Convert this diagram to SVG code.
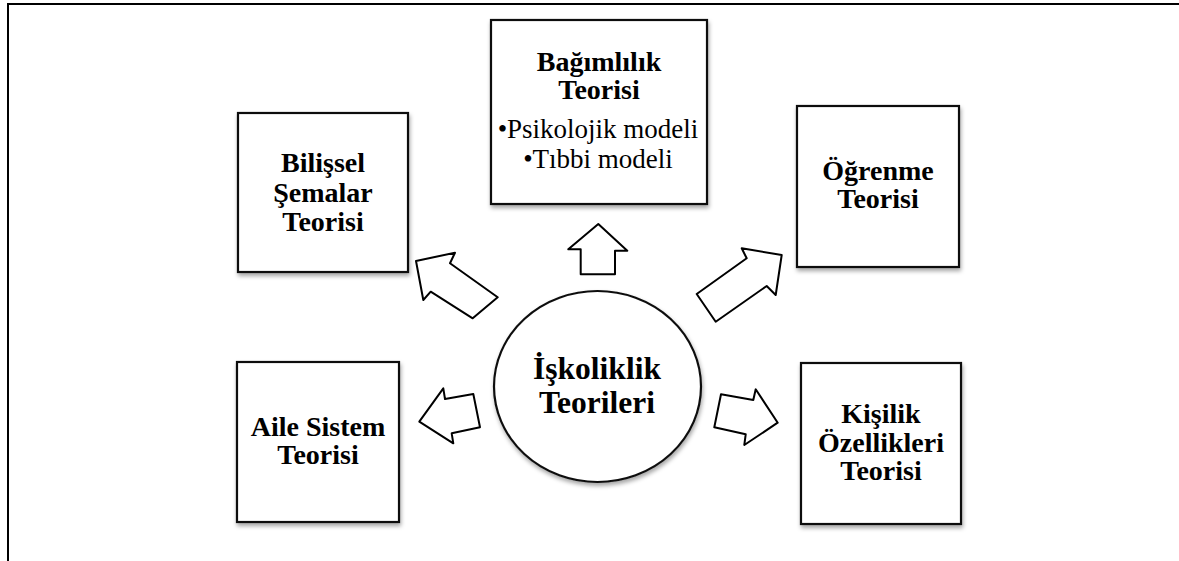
<svg xmlns="http://www.w3.org/2000/svg" width="1179" height="561" viewBox="0 0 1179 561">
<defs>
<filter id="sh" x="-10%" y="-10%" width="125%" height="125%">
<feDropShadow dx="1" dy="3" stdDeviation="2" flood-color="#000" flood-opacity="0.35"/>
</filter>
<style>
.box{fill:#fff;stroke:#111;stroke-width:2.2;filter:url(#sh)}
.arr{fill:#fff;stroke:#000;stroke-width:2;stroke-linejoin:round}
.t{font-family:"Liberation Serif","Times New Roman",serif;font-weight:bold;font-size:28px;fill:#000;text-anchor:middle}
.b{font-family:"Liberation Serif","Times New Roman",serif;font-size:27px;fill:#000;text-anchor:middle}
.c{font-family:"Liberation Serif","Times New Roman",serif;font-weight:bold;font-size:31.5px;fill:#000;text-anchor:middle}
</style>
</defs>
<rect width="1179" height="561" fill="#fff"/>
<g id="frame" fill="none" stroke="#000" stroke-width="2">
<path d="M8 561 V4 H1179"/>
</g>
<g id="connectors">
<polygon class="arr" points="598.3,224 568.3,249.3 580.7,249.3 580.7,274.3 615,274.3 615,250.7 627.3,250.7"/>
<polygon class="arr" points="416,261 455,252.7 450,263.3 497.7,297.3 472.7,318.3 430.7,291.7 423.3,300"/>
<polygon class="arr" points="781.7,255 741.7,248.3 746.7,258.3 696.7,294 715.7,321.7 766.7,286 775.7,295"/>
<polygon class="arr" points="419.3,421.7 443.3,388.3 445,399 473.3,394 480,427.3 451.7,433.3 453.3,443.3"/>
<polygon class="arr" points="777.7,422.7 755.7,389.3 753.3,400 721,394.3 714.3,427.3 745.7,434.3 744.3,445"/>
</g>
<g id="node-bilissel">
<rect class="box" x="238" y="113" width="170" height="159"/>
<text class="t" x="323" y="172">Bilişsel</text>
<text class="t" x="323" y="202">Şemalar</text>
<text class="t" x="323" y="231">Teorisi</text>
</g>
<g id="node-bagimlilik">
<rect class="box" x="491" y="20" width="216" height="184"/>
<text class="t" x="599" y="71">Bağımlılık</text>
<text class="t" x="599" y="99">Teorisi</text>
<text class="b" x="598" y="138">•Psikolojik modeli</text>
<text class="b" x="598" y="168">•Tıbbi modeli</text>
</g>
<g id="node-ogrenme">
<rect class="box" x="797" y="106" width="162" height="161"/>
<text class="t" x="878" y="180">Öğrenme</text>
<text class="t" x="878" y="208">Teorisi</text>
</g>
<g id="node-aile">
<rect class="box" x="237" y="362" width="162" height="160"/>
<text class="t" x="318" y="436">Aile Sistem</text>
<text class="t" x="318" y="464">Teorisi</text>
</g>
<g id="node-kisilik">
<rect class="box" x="801" y="363" width="160" height="161"/>
<text class="t" x="881" y="423">Kişilik</text>
<text class="t" x="881" y="452">Özellikleri</text>
<text class="t" x="881" y="480">Teorisi</text>
</g>
<g id="node-center">
<ellipse class="box" cx="597.5" cy="386.5" rx="103.5" ry="95.5"/>
<text class="c" x="597" y="379">İşkoliklik</text>
<text class="c" x="597" y="413">Teorileri</text>
</g>
</svg>
